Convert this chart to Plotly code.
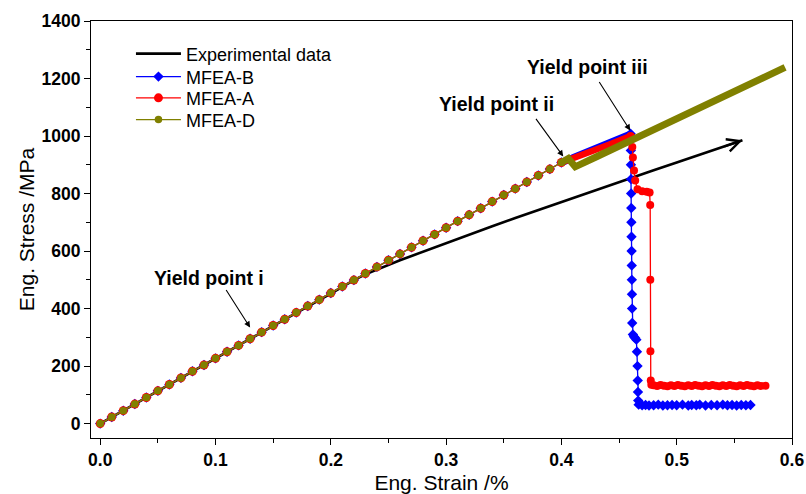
import plotly.graph_objects as go

# ---------------- data ----------------
# Experimental curve
exp_strain = [0.00, 0.05, 0.10, 0.15, 0.20, 0.22, 0.23, 0.24, 0.25, 0.26, 0.27, 0.28, 0.29,
              0.30, 0.32, 0.34, 0.36, 0.38, 0.39, 0.40, 0.42, 0.44, 0.46, 0.48, 0.50,
              0.52, 0.54, 0.557]
exp_stress = [0, 114, 227, 340, 452, 499, 519, 536, 552, 568, 583, 598, 613,
              628, 657, 686, 715, 743, 757, 771, 799, 826, 853, 881, 908,
              935, 962, 985]

# Shared linear (elastic) part of the three MFEA curves, markers every 0.01 strain
lin_strain = [0.00, 0.01, 0.02, 0.03, 0.04, 0.05, 0.06, 0.07, 0.08, 0.09,
              0.10, 0.11, 0.12, 0.13, 0.14, 0.15, 0.16, 0.17, 0.18, 0.19,
              0.20, 0.21, 0.22, 0.23, 0.24, 0.25, 0.26, 0.27, 0.28, 0.29,
              0.30, 0.31, 0.32, 0.33, 0.34, 0.35, 0.36, 0.37, 0.38, 0.39, 0.40]
lin_stress = [0, 23, 45, 68, 91, 114, 136, 159, 182, 204,
              227, 250, 272, 295, 318, 341, 363, 386, 409, 431,
              454, 477, 499, 522, 545, 568, 590, 613, 636, 658,
              681, 704, 726, 749, 772, 795, 817, 840, 863, 885, 908]

# MFEA-B after yield point ii (dense band) and failure
b_band_strain = [0.400, 0.403, 0.406, 0.410, 0.430, 0.450, 0.460]
b_band_stress = [906, 910, 916, 926, 958, 990, 1008]
b_drop_strain = [0.4600, 0.4602, 0.4603, 0.4604, 0.4605, 0.4606, 0.4607, 0.4608, 0.4609,
                 0.4610, 0.4611, 0.4612, 0.4613, 0.4614, 0.4620, 0.4630, 0.4640, 0.4650,
                 0.4655, 0.4660, 0.4662, 0.4664, 0.4666, 0.4670, 0.4700, 0.4730, 0.4760,
                 0.4800, 0.4840, 0.4880, 0.4920, 0.4960, 0.5000, 0.5050, 0.5100, 0.5130,
                 0.5170, 0.5200, 0.5250, 0.5300, 0.5350, 0.5400, 0.5440, 0.5480, 0.5520,
                 0.5560, 0.5600, 0.5640]
b_drop_stress = [1008, 950, 900, 850, 800, 750, 700, 650, 600,
                 550, 500, 450, 400, 350, 310, 302, 298, 292,
                 250, 200, 150, 110, 80, 66, 64, 65, 63,
                 64, 66, 63, 64, 65, 64, 66, 63, 65,
                 64, 66, 63, 65, 64, 66, 64, 65, 63,
                 65, 64, 65]

# MFEA-A after yield point ii (dense band) and failure
a_band_strain = [0.400, 0.405, 0.410, 0.420, 0.440, 0.460]
a_band_stress = [908, 915, 921, 936, 968, 1000]
a_drop_strain = [0.4600, 0.4612, 0.4615, 0.4620, 0.4630, 0.4640, 0.4660, 0.4700, 0.4740,
                 0.4765, 0.4770, 0.4771, 0.4772, 0.4775, 0.4780, 0.4800, 0.4830, 0.4860,
                 0.4890, 0.4920, 0.4950, 0.4980, 0.5010, 0.5040, 0.5070, 0.5100, 0.5130,
                 0.5160, 0.5190, 0.5220, 0.5250, 0.5280, 0.5310, 0.5340, 0.5370, 0.5400,
                 0.5430, 0.5460, 0.5490, 0.5520, 0.5550, 0.5580, 0.5610, 0.5640, 0.5670,
                 0.5700, 0.5730, 0.5770]
a_drop_stress = [1000, 995, 962, 925, 880, 845, 815, 808, 806,
                 804, 760, 500, 252, 150, 135, 133, 131, 134,
                 132, 130, 133, 131, 134, 132, 130, 133, 131,
                 134, 132, 130, 133, 131, 134, 132, 130, 133,
                 131, 134, 132, 130, 133, 131, 134, 132, 130,
                 133, 131, 132]

# MFEA-D after yield point ii (dense band)
d_band_strain = [0.400, 0.404, 0.406, 0.408, 0.410, 0.412, 0.430, 0.460, 0.500, 0.540,
                 0.570, 0.594]
d_band_stress = [908, 918, 922, 912, 898, 893, 927, 984, 1060, 1136,
                 1193, 1239]

x_ticks = [0.0, 0.1, 0.2, 0.3, 0.4, 0.5, 0.6]
y_ticks = [0, 200, 400, 600, 800, 1000, 1200, 1400]

# ---------------- figure ----------------
BLUE = "#0000FF"
RED = "#FF0000"
OLIVE = "#808000"
FONT = "Liberation Sans, Arial, sans-serif"

fig = go.Figure()

fig.add_trace(go.Scatter(x=exp_strain, y=exp_stress, mode="lines", name="Experimental data",
                         line=dict(color="black", width=2.6), legendgroup="exp", legend="legend"))

# MFEA-B
fig.add_trace(go.Scatter(x=lin_strain, y=lin_stress, mode="lines+markers", name="MFEA-B",
                         line=dict(color=BLUE, width=1.3),
                         marker=dict(symbol="diamond", size=8, color=BLUE),
                         legendgroup="B", legend="legend2"))
fig.add_trace(go.Scatter(x=b_band_strain, y=b_band_stress, mode="lines", showlegend=False,
                         line=dict(color=BLUE, width=6.5), legendgroup="B"))
fig.add_trace(go.Scatter(x=b_drop_strain, y=b_drop_stress, mode="lines+markers", showlegend=False,
                         line=dict(color=BLUE, width=1.3),
                         marker=dict(symbol="diamond", size=8, color=BLUE), legendgroup="B"))

# MFEA-A
fig.add_trace(go.Scatter(x=lin_strain, y=lin_stress, mode="lines+markers", name="MFEA-A",
                         line=dict(color=RED, width=1.3),
                         marker=dict(symbol="circle", size=9, color=RED),
                         legendgroup="A", legend="legend3"))
fig.add_trace(go.Scatter(x=a_band_strain, y=a_band_stress, mode="lines", showlegend=False,
                         line=dict(color=RED, width=6.5), legendgroup="A"))
fig.add_trace(go.Scatter(x=a_drop_strain, y=a_drop_stress, mode="lines+markers", showlegend=False,
                         line=dict(color=RED, width=1.3),
                         marker=dict(symbol="circle", size=8, color=RED), legendgroup="A"))

# MFEA-D
fig.add_trace(go.Scatter(x=lin_strain, y=lin_stress, mode="lines+markers", name="MFEA-D",
                         line=dict(color=OLIVE, width=1.3),
                         marker=dict(symbol="circle", size=7.5, color=OLIVE),
                         legendgroup="D", legend="legend4"))
fig.add_trace(go.Scatter(x=d_band_strain, y=d_band_stress, mode="lines", showlegend=False,
                         line=dict(color=OLIVE, width=7), legendgroup="D"))

# annotations
ann_font = dict(family=FONT, size=19.5, color="black", weight="bold")
annotations = [
    dict(x=0.0945, y=508, text="Yield point i", showarrow=False, font=ann_font),
    dict(x=0.344, y=1113, text="Yield point ii", showarrow=False, font=ann_font),
    dict(x=0.423, y=1239, text="Yield point iii", showarrow=False, font=ann_font),
]
arrows = [((0.1084, 470), (0.130, 334)),
          ((0.377, 1065), (0.4016, 929)),
          ((0.432, 1193), (0.4597, 1019))]
for (tx, ty), (hx, hy) in arrows:
    annotations.append(dict(x=hx, y=hy, ax=tx, ay=ty, axref="x", ayref="y", xref="x", yref="y",
                            text="", showarrow=True, arrowhead=2, arrowsize=1.1,
                            arrowwidth=1.1, arrowcolor="black", standoff=0))
# chevron at end of experimental curve
annotations.append(dict(x=exp_strain[-1], y=exp_stress[-1], ax=exp_strain[-2], ay=exp_stress[-2],
                        axref="x", ayref="y", xref="x", yref="y", text="", showarrow=True,
                        arrowhead=5, arrowsize=1.25, arrowwidth=2, arrowcolor="black", standoff=0))

tick_font = dict(family=FONT, size=17.5, color="black", weight="bold")
title_font = dict(family=FONT, size=21, color="black")

leg_common = dict(xanchor="left", yanchor="middle",
                  font=dict(family=FONT, size=18, color="black"),
                  bgcolor="rgba(0,0,0,0)", itemwidth=45)
leg_x = 0.057
leg_rows = [0.921, 0.866, 0.815, 0.763]

fig.update_layout(
    width=806, height=494,
    margin=dict(l=91, r=14, t=21, b=56),
    paper_bgcolor="white", plot_bgcolor="white",
    font=dict(family=FONT, color="black"),
    annotations=annotations,
    legend=dict(x=leg_x, y=leg_rows[0], **leg_common),
    legend2=dict(x=leg_x, y=leg_rows[1], **leg_common),
    legend3=dict(x=leg_x, y=leg_rows[2], **leg_common),
    legend4=dict(x=leg_x, y=leg_rows[3], **leg_common),
    showlegend=True,
)
fig.update_xaxes(range=[-0.008, 0.6], tickvals=x_ticks, ticktext=[f"{v:.1f}" for v in x_ticks],
                 ticks="outside", ticklen=6, tickwidth=1, tickcolor="black",
                 minor=dict(dtick=0.05, tick0=0, ticks="outside", ticklen=4, tickcolor="black"),
                 showline=True, linecolor="black", linewidth=1, mirror=True, automargin=False,
                 showgrid=False, zeroline=False, tickfont=tick_font,
                 title=dict(text="Eng. Strain /%", font=title_font, standoff=6))
fig.update_yaxes(range=[-50, 1400], tickvals=y_ticks, ticktext=[str(v) for v in y_ticks],
                 ticks="outside", ticklen=6, tickwidth=1, tickcolor="black",
                 minor=dict(dtick=100, tick0=0, ticks="outside", ticklen=4, tickcolor="black"),
                 showline=True, linecolor="black", linewidth=1, mirror=True, automargin=False,
                 showgrid=False, zeroline=False, tickfont=tick_font,
                 title=dict(text="Eng. Stress /MPa", font=title_font, standoff=1))

fig.write_html("out.html", config={"displayModeBar": False},
               post_script="document.body.style.margin='0';")
